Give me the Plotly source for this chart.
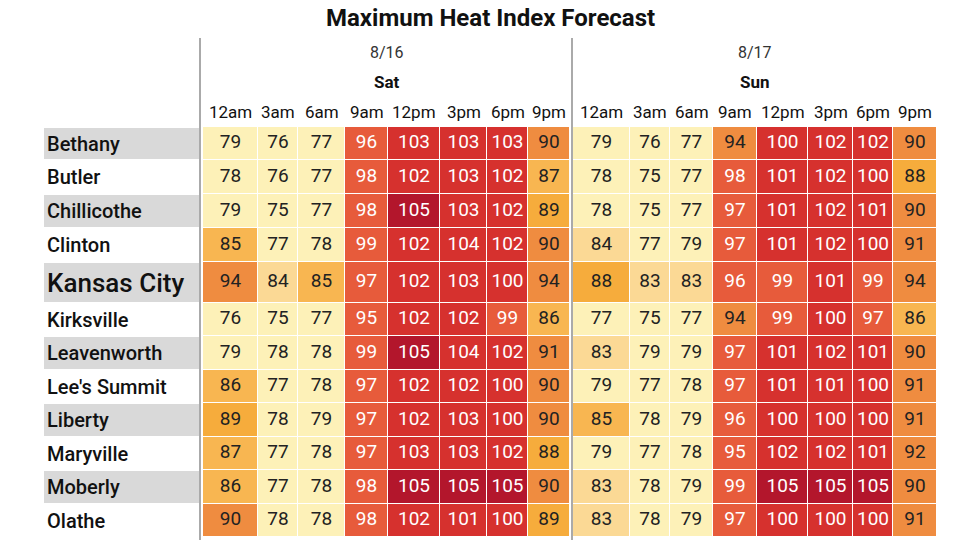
import plotly.graph_objects as go

cities = ["Bethany", "Butler", "Chillicothe", "Clinton", "Kansas City", "Kirksville",
          "Leavenworth", "Lee's Summit", "Liberty", "Maryville", "Moberly", "Olathe"]
hours = ["12am", "3am", "6am", "9am", "12pm", "3pm", "6pm", "9pm"]
dates = ["8/16", "8/17"]
days = ["Sat", "Sun"]

sat = [
    [79, 76, 77, 96, 103, 103, 103, 90],
    [78, 76, 77, 98, 102, 103, 102, 87],
    [79, 75, 77, 98, 105, 103, 102, 89],
    [85, 77, 78, 99, 102, 104, 102, 90],
    [94, 84, 85, 97, 102, 103, 100, 94],
    [76, 75, 77, 95, 102, 102, 99, 86],
    [79, 78, 78, 99, 105, 104, 102, 91],
    [86, 77, 78, 97, 102, 102, 100, 90],
    [89, 78, 79, 97, 102, 103, 100, 90],
    [87, 77, 78, 97, 103, 103, 102, 88],
    [86, 77, 78, 98, 105, 105, 105, 90],
    [90, 78, 78, 98, 102, 101, 100, 89],
]
sun = [
    [79, 76, 77, 94, 100, 102, 102, 90],
    [78, 75, 77, 98, 101, 102, 100, 88],
    [78, 75, 77, 97, 101, 102, 101, 90],
    [84, 77, 79, 97, 101, 102, 100, 91],
    [88, 83, 83, 96, 99, 101, 99, 94],
    [77, 75, 77, 94, 99, 100, 97, 86],
    [83, 79, 79, 97, 101, 102, 101, 90],
    [79, 77, 78, 97, 101, 101, 100, 91],
    [85, 78, 79, 96, 100, 100, 100, 91],
    [79, 77, 78, 95, 102, 102, 101, 92],
    [83, 78, 79, 99, 105, 105, 105, 90],
    [83, 78, 79, 97, 100, 100, 100, 91],
]

# layout in pixel space
sat_edges = [203, 258, 298, 345, 388, 440, 487, 528, 570]
sun_edges = [573, 630, 670, 713, 757, 808, 853, 893, 937]
row_edges = [127, 160, 194, 228, 262, 303, 336, 370, 403, 437, 470, 504, 537]

# stepped colour scale, zmin 75 .. zmax 106
bins = [(75, "#fdf1b8"), (83, "#fbd995"), (85, "#f8b651"), (88, "#f6ac3c"),
        (90, "#ef8c40"), (95, "#e75b3b"), (100, "#d6312e"), (105, "#b3162c"), (106, None)]
zmin, zmax = 75, 106
cs = []
for i in range(len(bins) - 1):
    a = (bins[i][0] - zmin) / (zmax - zmin)
    b = (bins[i + 1][0] - zmin) / (zmax - zmin)
    cs += [[a, bins[i][1]], [b, bins[i][1]]]

fig = go.Figure()
num_font = "Roboto, sans-serif"

for edges, vals in [(sat_edges, sat), (sun_edges, sun)]:
    fig.add_trace(go.Heatmap(z=vals, x=edges, y=row_edges, colorscale=cs, zmin=zmin, zmax=zmax,
                             showscale=False, xgap=1, ygap=1, hoverinfo="z"))
    xs, ys, ts, cols = [], [], [], []
    for r, row in enumerate(vals):
        for c, v in enumerate(row):
            xs.append((edges[c] + edges[c + 1]) / 2)
            ys.append((row_edges[r] + row_edges[r + 1]) / 2)
            ts.append(str(v))
            cols.append("white" if v >= 95 else "#222")
    fig.add_trace(go.Scatter(x=xs, y=ys, text=ts, mode="text", hoverinfo="skip",
                             textfont=dict(family=num_font, size=19, color=cols)))

# city label bands
shapes = []
for r, city in enumerate(cities):
    y0, y1 = row_edges[r], row_edges[r + 1]
    if r % 2 == 0:
        shapes.append(dict(type="rect", x0=44, x1=199, y0=y0 + 1, y1=y1 - 1,
                           fillcolor="#d9d9d9", line=dict(width=0), layer="below"))
    fig.add_annotation(x=45, y=(y0 + y1) / 2, text=city, showarrow=False, xanchor="left",
                       font=dict(family=num_font, size=26 if city == "Kansas City" else 20,
                                 color="#111", weight=500))

for x in [200, 572]:
    shapes.append(dict(type="line", x0=x, x1=x, y0=38, y1=540,
                       line=dict(color="#aaaaaa", width=2)))

for edges, d, day in [(sat_edges, dates[0], days[0]), (sun_edges, dates[1], days[1])]:
    mid = (edges[0] + edges[-1]) / 2
    fig.add_annotation(x=mid, y=52, text=d, showarrow=False,
                       font=dict(family=num_font, size=16, color="#333"))
    fig.add_annotation(x=mid, y=82, text="<b>" + day + "</b>", showarrow=False,
                       font=dict(family=num_font, size=17, color="#111"))
    for c, h in enumerate(hours):
        fig.add_annotation(x=(edges[c] + edges[c + 1]) / 2, y=112, text=h, showarrow=False,
                           font=dict(family=num_font, size=17, color="#111"))

fig.add_annotation(x=490, y=18, text="<b>Maximum Heat Index Forecast</b>", showarrow=False,
                   font=dict(family="Roboto, sans-serif", size=24, color="#111"))

# page body has an 8px margin, so shift the pixel window by 8
fig.update_layout(
    width=960, height=540, margin=dict(l=0, r=0, t=0, b=0),
    plot_bgcolor="white", paper_bgcolor="white", showlegend=False, shapes=shapes,
    xaxis=dict(range=[8, 968], visible=False, fixedrange=True),
    yaxis=dict(range=[548, 8], visible=False, fixedrange=True),
)

fig.write_html("out.html")
